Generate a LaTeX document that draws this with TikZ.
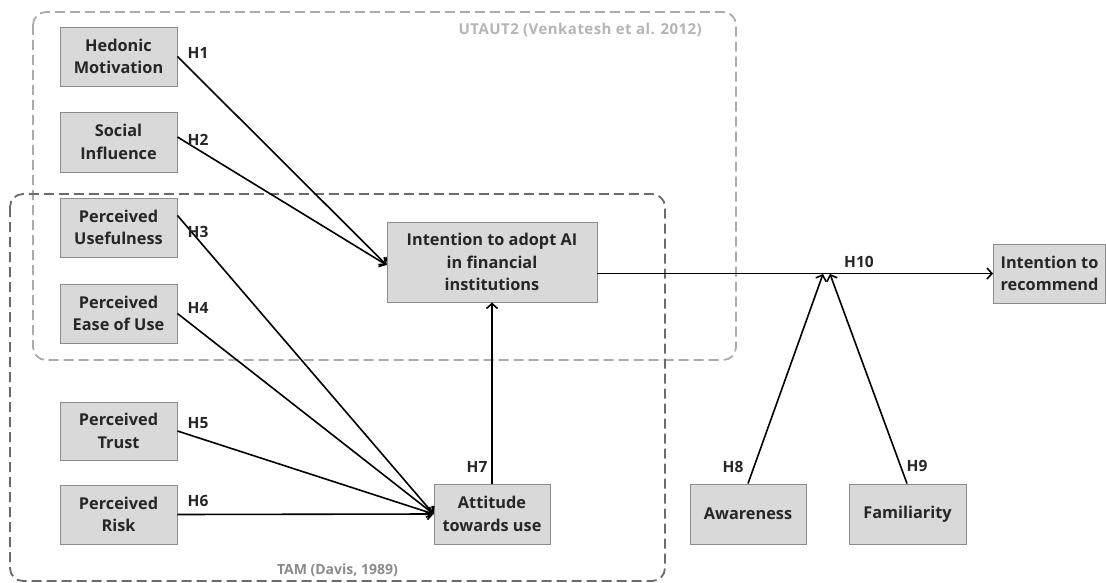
\documentclass[tikz,border=0pt]{standalone}
\usepackage{fontspec}
\setmainfont{Open Sans}
\usetikzlibrary{arrows.meta}
\definecolor{boxfill}{HTML}{D9D9D9}
\definecolor{boxedge}{HTML}{8C8C8C}
\definecolor{utcol}{HTML}{ABABAB}
\definecolor{tamcol}{HTML}{6B6B6B}
\definecolor{utlab}{HTML}{B5B5B5}
\definecolor{tamlab}{HTML}{8A8A8A}
\begin{document}
\begin{tikzpicture}[x=1pt,y=-1pt,
  construct/.style={draw=boxedge, fill=boxfill, line width=0.9pt, align=center, inner sep=0pt,
    font=\bfseries\fontsize{16.3}{22.5}\selectfont, text=black!85},
  hyp/.style={font=\bfseries\fontsize{15.5}{17}\selectfont, text=black!85, inner sep=0pt},
  framelabel/.style={font=\bfseries\fontsize{14}{16}\selectfont, anchor=east, inner sep=0pt},
  link/.style={line width=1.6pt, -{Straight Barb[length=5pt,width=11pt,line width=1.6pt]}},
  frame/.style={dash pattern=on 10pt off 5pt, line width=1.8pt, rounded corners=13pt}
]
\useasboundingbox (0,0) rectangle (1106,583);

% framework frames
\draw[frame, utcol] (33,12) rectangle (736,360);
\draw[frame, tamcol] (10,194) rectangle (665,581);
\node[framelabel, text=utlab, font=\bfseries\fontsize{15}{16}\selectfont\addfontfeature{LetterSpace=3}] (utlabel) at (702,30) {UTAUT2 (Venkatesh et al. 2012)};
\node[framelabel, text=tamlab] (tamlabel) at (398,570) {TAM (Davis, 1989)};

% constructs
\node[construct, minimum width=117pt, minimum height=59pt] (hm) at (118.5,56.5) {Hedonic\\Motivation};
\node[construct, minimum width=117pt, minimum height=60pt] (si) at (118.5,142) {Social\\Influence};
\node[construct, minimum width=117pt, minimum height=59pt] (pu) at (118.5,227.5) {Perceived\\Usefulness};
\node[construct, minimum width=117pt, minimum height=59pt] (pe) at (118.5,313.5) {Perceived\\Ease of Use};
\node[construct, minimum width=117pt, minimum height=58pt] (pt) at (118.5,431) {Perceived\\Trust};
\node[construct, minimum width=117pt, minimum height=59pt] (pr) at (118.5,514.5) {Perceived\\Risk};
\node[construct, minimum width=210pt, minimum height=80pt] (int) at (492,262) {Intention to adopt AI\\in financial\\institutions};
\node[construct, minimum width=116pt, minimum height=60pt] (att) at (492,514) {Attitude\\towards use};
\node[construct, minimum width=116pt, minimum height=60pt] (aw) at (748,514) {Awareness};
\node[construct, minimum width=117pt, minimum height=60pt] (fa) at (907.5,514) {Familiarity};
\node[construct, minimum width=112pt, minimum height=59pt] (rec) at (1049.5,273.5) {Intention to\\recommend};

% moderator points on H10
\coordinate (m8) at (823,274);
\coordinate (m9) at (830,274);

% connectors
\draw[link] (hm.east) -- ([yshift=-3pt]int.west);
\draw[link] ([yshift=5pt]si.east) -- ([yshift=-3pt]int.west);
\draw[link] ([yshift=12pt]pu.east) -- (att.west);
\draw[link] (pe.east) -- (att.west);
\draw[link] (pt.east) -- (att.west);
\draw[link] (pr.east) -- (att.west);
\draw[link] (att.north) -- (int.south);
\draw[link] (int.east |- rec.west) -- (rec.west);
\draw[link] (aw.north) -- (m8);
\draw[link] ([xshift=-0.5pt]fa.north) -- (m9);

% hypothesis labels
\node[hyp] (h1) at (198,53) {H1};
\node[hyp] (h2) at (198,140) {H2};
\node[hyp] (h3) at (198,232) {H3};
\node[hyp] (h4) at (198,308) {H4};
\node[hyp] (h5) at (198,423) {H5};
\node[hyp] (h6) at (198,501) {H6};
\node[hyp] (h7) at (477,467) {H7};
\node[hyp] (h8) at (733,467) {H8};
\node[hyp] (h9) at (917,466) {H9};
\node[hyp] (h10) at (859,262) {H10};
\end{tikzpicture}
\end{document}
